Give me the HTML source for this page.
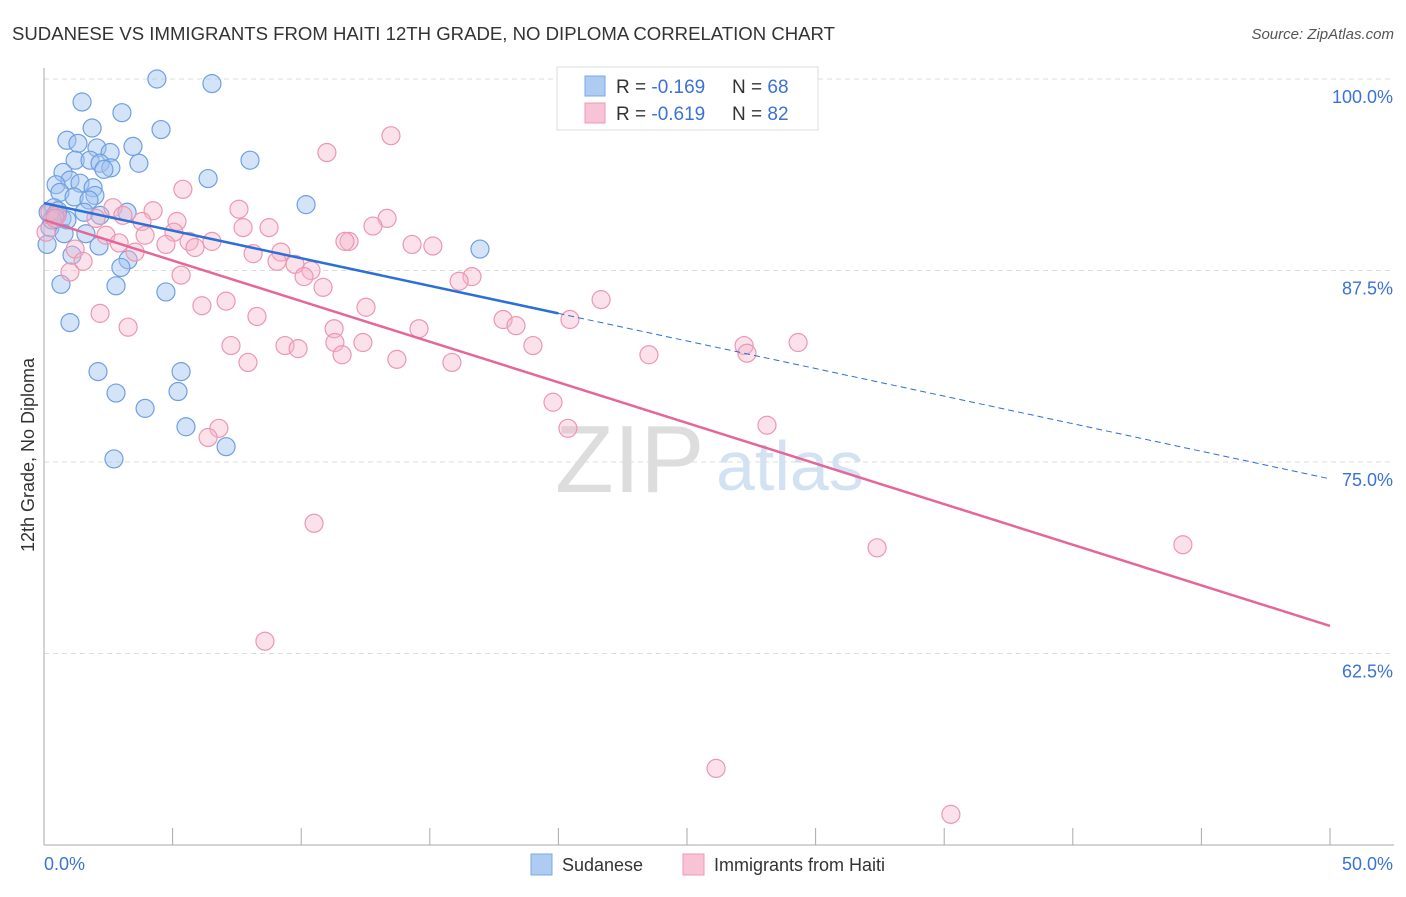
<!DOCTYPE html>
<html><head><meta charset="utf-8"><style>
body{margin:0;background:#fff;font-family:"Liberation Sans",sans-serif;}
svg text{font-family:"Liberation Sans",sans-serif;}
</style></head><body>
<svg width="1406" height="892" viewBox="0 0 1406 892">
<text x="12" y="40" font-size="18" fill="#333" textLength="823" lengthAdjust="spacingAndGlyphs">SUDANESE VS IMMIGRANTS FROM HAITI 12TH GRADE, NO DIPLOMA CORRELATION CHART</text>
<text x="1394" y="39" font-size="15" fill="#555" font-style="italic" text-anchor="end">Source: ZipAtlas.com</text>
<text transform="translate(34,455) rotate(-90)" font-size="18" fill="#333" text-anchor="middle">12th Grade, No Diploma</text>
<g id="grid"></g>
<text x="555" y="492" font-size="96" fill="#ddd" font-family="Liberation Serif">ZIP</text>
<text x="716" y="490" font-size="70" fill="#d3e2f3">atlas</text>
<g id="pts"></g>
<g id="lines"></g>
<g>
<rect x="557" y="67" width="261" height="63" fill="#fff" stroke="#ddd"/>
<rect x="585" y="76" width="20" height="20" fill="#aecbf2" stroke="#7aaae8"/>
<rect x="585" y="103" width="20" height="20" fill="#f8c3d4" stroke="#ee9ab5"/>
<text x="616" y="93" font-size="19" fill="#333">R = <tspan fill="#3a72d8">-0.169</tspan></text>
<text x="732" y="93" font-size="19" fill="#333">N = <tspan fill="#3a72d8">68</tspan></text>
<text x="616" y="120" font-size="19" fill="#333">R = <tspan fill="#3a72d8">-0.619</tspan></text>
<text x="732" y="120" font-size="19" fill="#333">N = <tspan fill="#3a72d8">82</tspan></text>
</g>
<g>
<rect x="531" y="854" width="21" height="21" fill="#aecbf2" stroke="#7aaae8"/>
<text x="562" y="871" font-size="18" fill="#333">Sudanese</text>
<rect x="683" y="854" width="21" height="21" fill="#f8c3d4" stroke="#ee9ab5"/>
<text x="714" y="871" font-size="18" fill="#333">Immigrants from Haiti</text>
</g>
</svg>
<script>
const blueX=[4.39,6.53,1.48,3.03,1.87,4.55,0.89,1.32,2.06,2.57,3.46,1.21,1.79,2.18,3.69,8.01,2.60,2.33,0.74,6.38,1.01,0.47,1.40,1.91,0.62,1.17,1.98,1.75,10.19,0.39,1.56,3.23,2.18,0.16,0.70,0.89,0.23,1.63,0.78,2.14,0.12,1.09,16.95,3.27,2.99,0.66,2.80,4.74,1.01,2.10,5.33,2.80,5.21,3.93,5.52,7.08,2.72,0.43,0.54,0.31];
const blueY=[100,99.7,98.5,97.8,96.8,96.7,96.0,95.8,95.5,95.2,95.6,94.7,94.7,94.5,94.5,94.7,94.2,94.1,93.9,93.5,93.4,93.1,93.2,92.9,92.6,92.3,92.4,92.1,91.8,91.6,91.3,91.3,91.1,91.3,90.9,90.8,90.3,89.9,89.9,89.1,89.2,88.5,88.9,88.2,87.7,86.6,86.5,86.1,84.1,80.9,80.9,79.5,79.6,78.5,77.3,76.0,75.2,91.1,91.4,90.8];
const pinkX=[13.49,11.00,5.40,7.58,4.24,2.68,13.34,5.17,3.07,3.81,7.74,8.75,12.79,2.02,0.51,0.08,5.05,3.93,2.41,2.92,4.74,5.64,6.53,5.87,11.86,11.70,15.12,14.31,8.13,9.21,1.21,3.54,9.06,9.76,10.38,10.11,16.64,16.14,1.52,1.01,5.33,10.85,21.66,7.08,6.14,12.52,2.18,8.28,17.85,18.35,20.45,3.27,11.28,14.58,7.27,11.31,9.37,9.88,12.40,19.01,11.59,13.72,15.86,7.93,23.52,27.22,27.33,29.32,19.79,20.37,28.11,6.80,6.38,10.50,32.39,44.28,8.59,26.13,35.26,0.23,0.43];
const pinkY=[96.3,95.2,92.8,91.5,91.4,91.6,90.9,90.7,91.1,90.7,90.3,90.3,90.4,90.9,91.1,90.0,90.0,89.8,89.8,89.3,89.2,89.4,89.4,89.0,89.4,89.4,89.1,89.2,88.6,88.7,88.9,88.7,88.1,87.9,87.5,87.1,87.1,86.8,88.1,87.4,87.2,86.4,85.6,85.5,85.2,85.1,84.7,84.5,84.3,83.9,84.3,83.8,83.7,83.7,82.6,82.8,82.6,82.4,82.8,82.6,82.0,81.7,81.5,81.5,82.0,82.6,82.1,82.8,78.9,77.2,77.4,77.2,76.6,71.0,69.4,69.6,63.3,55.0,52.0,91.3,90.9];
const yTicks=[100,87.5,75,62.5];
const yTickLabels=["100.0%","87.5%","75.0%","62.5%"];
const blueTrend=[91.9,84.7];
const pinkTrend=[90.8,64.3];
const NS='http://www.w3.org/2000/svg';
const X0=44,X1=1330,Y100=79,PXY=15.32;
function sx(v){return X0+(X1-X0)*v/50;}
function sy(v){return Y100+(100-v)*PXY;}
function mk(tag,attrs,parent){const e=document.createElementNS(NS,tag);for(const k in attrs)e.setAttribute(k,attrs[k]);parent.appendChild(e);return e;}
const grid=document.getElementById('grid');
yTicks.forEach((t,i)=>{
 const l=mk('line',{x1:X0,x2:1394,y1:sy(t),y2:sy(t),stroke:'#ddd','stroke-dasharray':'5,4'},grid);
 
 
 const tx=mk('text',{x:1393,y:sy(t)+24,'font-size':18,fill:'#3a72d8','text-anchor':'end'},grid);
 tx.textContent=yTickLabels[i];
 
 
});
const ax=mk('line',{x1:X0,x2:X0,y1:68,y2:845,stroke:'#aaa'},grid);


const bx=mk('line',{x1:X0,x2:1394,y1:845,y2:845,stroke:'#aaa'},grid);


for(let i=0;i<=10;i++){
 const t=mk('line',{x1:sx(i*5),x2:sx(i*5),y1:828,y2:845,stroke:'#aaa'},grid);
 
 
}
const xl=mk('text',{x:44,y:870,'font-size':18,fill:'#3a72d8'},grid);xl.textContent='0.0%';


const xr=mk('text',{x:1393,y:870,'font-size':18,fill:'#3a72d8','text-anchor':'end'},grid);xr.textContent='50.0%';


const pts=document.getElementById('pts');
blueX.forEach((x,i)=>{
 const c=mk('circle',{cx:sx(x),cy:sy(blueY[i]),r:9,fill:'rgba(160,196,240,0.45)',stroke:'#6f9fe2','stroke-width':1.2},pts);
 
 
});
pinkX.forEach((x,i)=>{
 const c=mk('circle',{cx:sx(x),cy:sy(pinkY[i]),r:9,fill:'rgba(244,180,200,0.4)',stroke:'#ec97b2','stroke-width':1.2},pts);
 
 
});
const lines=document.getElementById('lines');
const bs=(blueTrend[1]-blueTrend[0])/20;
const b1=mk('line',{x1:sx(0),y1:sy(blueTrend[0]),x2:sx(20),y2:sy(blueTrend[1]),stroke:'#2b6fd8','stroke-width':2.5},lines);


const b2=mk('line',{x1:sx(20),y1:sy(blueTrend[1]),x2:sx(50),y2:sy(blueTrend[0]+bs*50),stroke:'#2b6fd8','stroke-width':1,'stroke-dasharray':'6,4'},lines);


const p1=mk('line',{x1:sx(0),y1:sy(pinkTrend[0]),x2:sx(50),y2:sy(pinkTrend[1]),stroke:'#e4679a','stroke-width':2.5},lines);


</script>
</body></html>
